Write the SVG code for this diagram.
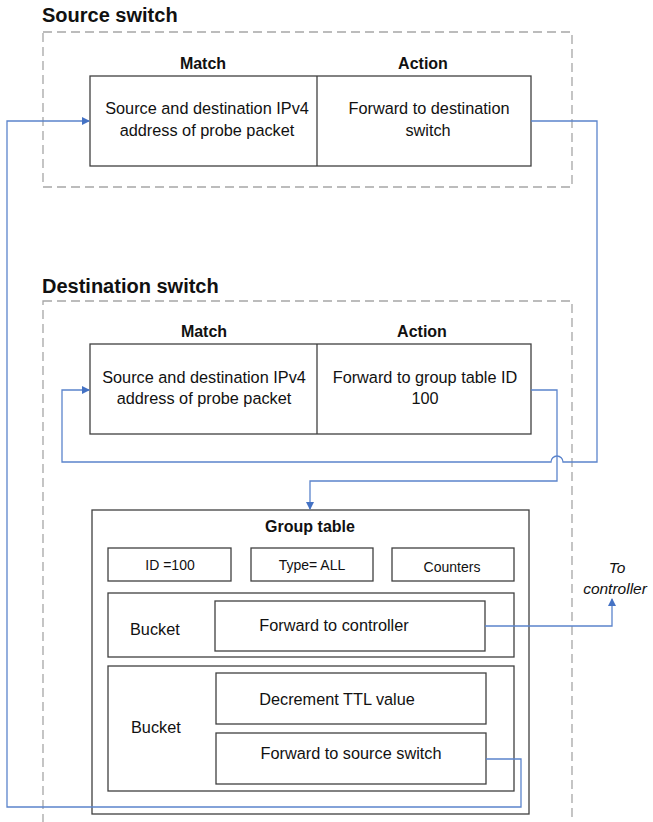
<svg xmlns="http://www.w3.org/2000/svg" width="653" height="822" viewBox="0 0 653 822">
<style>
text{font-family:"Liberation Sans",Arial,sans-serif;fill:#111}
.title{font-size:20px;font-weight:bold}
.hdr{font-size:16px;font-weight:bold;text-anchor:middle}
.t{font-size:16.3px;text-anchor:middle}
.s{font-size:14px;text-anchor:middle}
.it{font-size:15.5px;font-style:italic;text-anchor:middle}
.dash{fill:none;stroke:#a6a6a6;stroke-width:1.3;stroke-dasharray:9 5}
.box{fill:#fff;stroke:#404040;stroke-width:1.3}
.conn{fill:none;stroke:#5b84cc;stroke-width:1.3}
</style>
<defs>
<marker id="ah" markerWidth="8" markerHeight="8" refX="7" refY="4" orient="auto" markerUnits="userSpaceOnUse">
<path d="M0,0 L8,4 L0,8 Z" fill="#4472c4"/>
</marker>
</defs>
<rect width="653" height="822" fill="#fff"/>

<g id="source-switch">
<text class="title" x="42" y="22">Source switch</text>
<rect class="dash" x="43" y="32" width="529" height="155"/>
<text class="hdr" x="203" y="69">Match</text>
<text class="hdr" x="423" y="69">Action</text>
<rect class="box" x="90" y="76" width="441" height="90"/>
<line x1="317" y1="76" x2="317" y2="166" stroke="#404040" stroke-width="1.3"/>
<text class="t" x="207" y="114">Source and destination IPv4</text>
<text class="t" x="207" y="136">address of probe packet</text>
<text class="t" x="429" y="114">Forward to destination</text>
<text class="t" x="428" y="136">switch</text>
</g>

<g id="destination-switch">
<text class="title" x="42" y="293">Destination switch</text>
<rect class="dash" x="43" y="301" width="529" height="530"/>
<text class="hdr" x="204" y="337">Match</text>
<text class="hdr" x="422" y="337">Action</text>
<rect class="box" x="90" y="344" width="441" height="90"/>
<line x1="317" y1="344" x2="317" y2="434" stroke="#404040" stroke-width="1.3"/>
<text class="t" x="204" y="383">Source and destination IPv4</text>
<text class="t" x="204" y="404">address of probe packet</text>
<text class="t" x="425" y="383">Forward to group table ID</text>
<text class="t" x="425" y="404">100</text>
</g>

<g id="group-table">
<rect class="box" x="92" y="510" width="437" height="304" stroke="#555"/>
<text class="hdr" x="310" y="532">Group table</text>
<g id="id-box">
<rect class="box" x="108" y="548" width="123" height="33"/>
<text class="s" x="170" y="570">ID =100</text>
</g>
<g id="type-box">
<rect class="box" x="251" y="548" width="122" height="33"/>
<text class="s" x="312" y="570">Type= ALL</text>
</g>
<g id="counters-box">
<rect class="box" x="392" y="548" width="122" height="33"/>
<text class="s" x="452" y="572">Counters</text>
</g>
<g id="bucket1">
<rect class="box" x="108" y="593" width="406" height="64"/>
<text class="t" x="130" y="635" style="text-anchor:start">Bucket</text>
<rect class="box" x="215" y="601" width="270" height="50"/>
<text class="t" x="334" y="631">Forward to controller</text>
</g>
<g id="bucket2">
<rect class="box" x="108" y="666" width="406" height="125"/>
<text class="t" x="131" y="733" style="text-anchor:start">Bucket</text>
<rect class="box" x="216" y="673" width="270" height="51"/>
<text class="t" x="337" y="705">Decrement TTL value</text>
<rect class="box" x="216" y="733" width="270" height="51"/>
<text class="t" x="351" y="759">Forward to source switch</text>
</g>
</g>

<g id="to-controller">
<text class="it" x="617" y="573">To</text>
<text class="it" x="615" y="594">controller</text>
</g>

<g id="connectors">
<path class="conn" d="M486,759 H521 V807 H7 V121 H89" marker-end="url(#ah)"/>
<path class="conn" d="M531,121 H597 V462 H563 A6,6 0 0 0 551,462 H62 V390 H89" marker-end="url(#ah)"/>
<path class="conn" d="M531,390 H557 V481 H310 V509" marker-end="url(#ah)"/>
<path class="conn" d="M485,626 H612 V599" marker-end="url(#ah)"/>
</g>
</svg>
